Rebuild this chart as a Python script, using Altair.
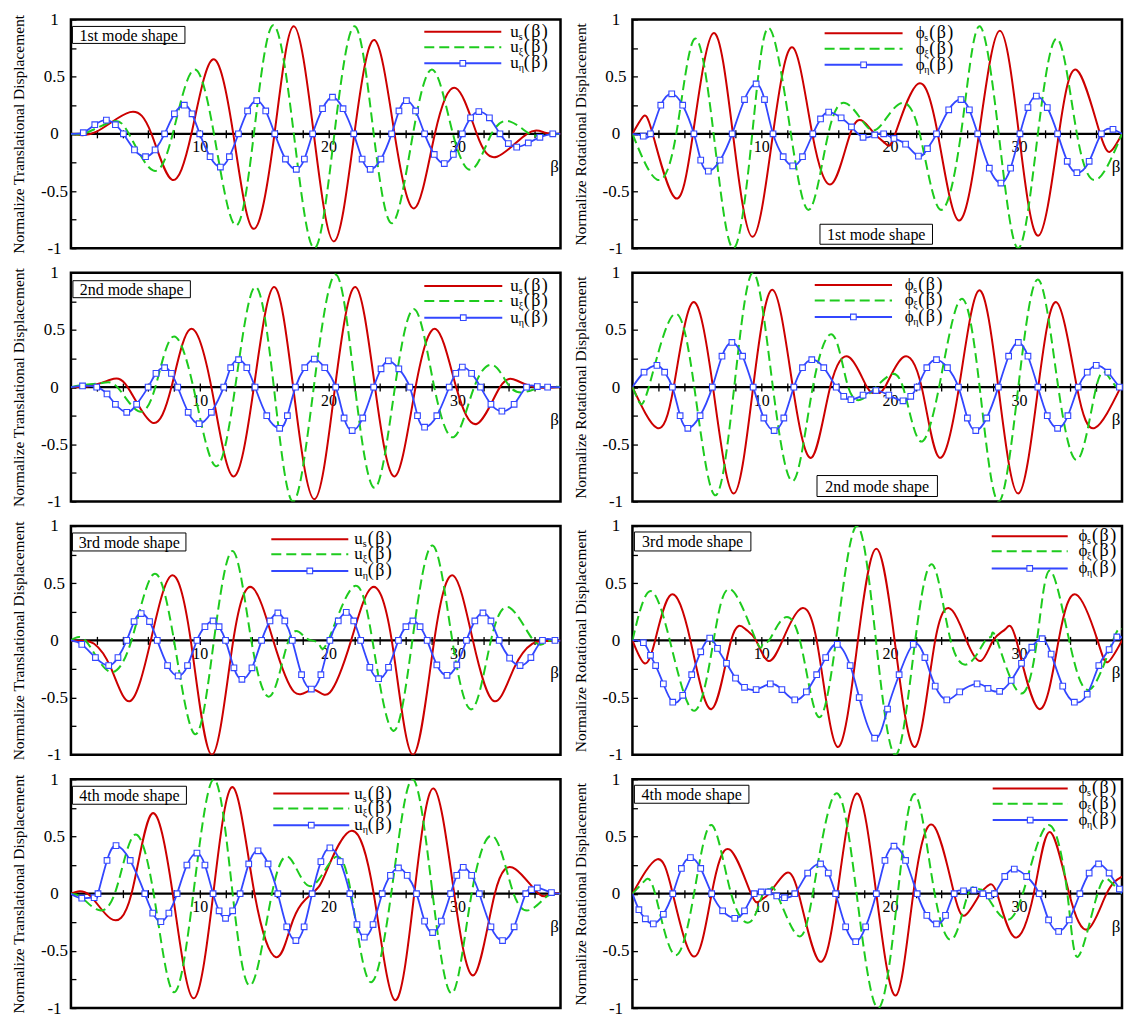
import altair as alt
import pandas as pd

W, H = 490, 229
KX = W / 496.0          # reference plot width is ~496 px; annotation x offsets are scaled by this
FONT = "Liberation Serif"
RED = "#cc0000"
GREEN = "#1ecb1e"
BLUE = "#3347ff"

# ---------------- data: (beta, value) ----------------
L1_RED = [(0,0),(2.0,0.02),(4.58,0.19),(6.25,0),(7.83,-0.40),(9.35,0),(11.0,0.65),(12.6,0),(14.16,-0.83),(15.8,0),(17.28,0.94),(18.85,0),(20.42,-0.94),(22.0,0),(23.56,0.82),(25.12,0),(26.68,-0.65),(28.25,0),(29.87,0.40),(31.5,0),(33.07,-0.20),(35.4,0),(36.8,0.01),(38,0)]
L1_GREEN = [(0,0),(1.2,0.01),(3.18,0.107),(4.5,0),(6.37,-0.32),(7.9,0),(9.52,0.56),(11.1,0),(12.76,-0.80),(14.2,0),(15.69,0.95),(17.3,0),(18.89,-1.0),(20.45,0),(22.03,0.94),(23.5,0),(24.95,-0.78),(26.55,0),(28.1,0.56),(29.65,0),(31.15,-0.31),(32.65,0),(34.1,0.107),(35.6,0),(36.6,-0.01),(38,0)]
L1_BLUE = [(0,0),(0.96,0.01),(1.85,0.08),(2.75,0.12),(3.45,0.08),(4.07,0),(4.93,-0.14),(5.79,-0.20),(6.53,-0.14),(7.27,0),(8.03,0.175),(8.8,0.25),(9.4,0.175),(10.0,0),(10.8,-0.2),(11.6,-0.29),(12.3,-0.2),(13.0,0),(13.71,0.2),(14.42,0.29),(15.12,0.2),(15.82,0),(16.65,-0.22),(17.49,-0.31),(18.12,-0.22),(18.76,0),(19.53,0.22),(20.3,0.32),(21.12,0.22),(21.95,0),(22.6,-0.22),(23.23,-0.31),(24.06,-0.22),(24.89,0),(25.46,0.2),(26.04,0.29),(26.75,0.2),(27.45,0),(28.2,-0.18),(28.98,-0.26),(29.68,-0.18),(30.38,0),(31.02,0.14),(31.66,0.195),(32.48,0.14),(33.3,0),(33.95,-0.085),(34.6,-0.116),(35.5,-0.08),(36.4,-0.03),(37.4,0.0),(38,0)]

L2_RED = [(0,0),(1.5,0.01),(3.06,0.064),(4.4,0),(6.3,-0.31),(7.8,0),(9.26,0.507),(10.9,0),(12.58,-0.78),(14.2,0),(15.75,0.875),(17.25,0),(18.89,-0.98),(20.5,0),(22.08,0.875),(23.6,0),(25.15,-0.78),(26.75,0),(28.33,0.507),(29.9,0),(31.53,-0.32),(33.3,0),(34.6,0.058),(36.0,0),(38,0)]
L2_GREEN = [(0,0),(1.0,0.02),(2.4,0.035),(3.6,0),(5.22,-0.21),(6.55,0),(7.9,0.44),(9.5,0),(11.22,-0.69),(12.75,0),(14.29,0.875),(15.75,0),(17.23,-1.0),(18.85,0),(20.55,0.985),(22.05,0),(23.6,-0.88),(25.15,0),(26.68,0.68),(28.2,0),(29.75,-0.435),(31.3,0),(32.8,0.19),(34.1,0),(35.36,-0.04),(36.6,0),(38,0)]
L2_BLUE = [(0,0),(0.9,0.01),(2.0,0.0),(2.8,-0.06),(3.45,-0.15),(4.33,-0.22),(5.1,-0.15),(5.99,0),(6.6,0.12),(7.27,0.17),(7.8,0.12),(8.29,0),(9.1,-0.22),(9.95,-0.32),(10.9,-0.22),(11.86,0),(12.4,0.17),(13.01,0.24),(13.65,0.17),(14.29,0),(15.2,-0.25),(16.2,-0.36),(16.8,-0.25),(17.43,0),(18.15,0.17),(18.89,0.245),(19.7,0.17),(20.55,0),(21.2,-0.27),(21.83,-0.38),(22.65,-0.27),(23.5,0),(24.07,0.16),(24.64,0.23),(25.45,0.16),(26.3,0),(26.9,-0.25),(27.45,-0.35),(28.4,-0.25),(29.36,0),(29.87,0.12),(30.38,0.175),(31.1,0.12),(31.79,0),(32.6,-0.15),(33.45,-0.21),(34.4,-0.15),(35.36,0),(36.2,0.005),(37.0,0.0),(38,0)]

L3_RED = [(0,0),(1.0,-0.005),(1.8,-0.03),(3.1,-0.24),(4.61,-0.53),(6.2,0),(7.77,0.565),(9.3,0),(10.95,-1.0),(12.6,0),(14.1,0.46),(15.7,0),(17.32,-0.45),(18.8,-0.43),(20.1,-0.455),(21.75,0),(23.32,0.46),(24.9,0),(26.54,-1.0),(28.2,0),(29.7,0.565),(31.2,0),(32.82,-0.53),(34.4,-0.24),(35.8,-0.03),(36.8,-0.005),(38,0)]
L3_GREEN = [(0,0),(1.2,-0.01),(2.93,-0.27),(4.7,0),(6.42,0.58),(8.0,0),(9.64,-0.82),(11.1,0),(12.57,0.78),(14.0,0),(15.5,-0.485),(16.9,0),(18.0,0.045),(18.65,0.0),(19.27,-0.035),(19.97,0),(21.93,0.47),(23.4,0),(25.0,-0.79),(26.5,0),(28.07,0.83),(29.6,0),(31.15,-0.6),(32.6,0),(34.08,0.285),(35.9,0),(37.0,-0.01),(38,0)]
L3_BLUE = [(0,0),(0.84,-0.035),(1.9,-0.15),(2.93,-0.22),(3.65,-0.15),(4.33,0),(4.9,0.165),(5.45,0.235),(6.1,0.165),(6.7,0),(7.5,-0.22),(8.32,-0.31),(9.05,-0.22),(9.78,0),(10.4,0.12),(11.03,0.17),(11.5,0.12),(12.0,0),(12.65,-0.24),(13.27,-0.34),(14.05,-0.24),(14.8,0),(15.45,0.17),(16.06,0.24),(16.6,0.17),(17.18,0),(17.9,-0.3),(18.66,-0.425),(19.4,-0.3),(20.1,0),(20.75,0.17),(21.37,0.245),(21.95,0.17),(22.49,0),(23.2,-0.235),(23.88,-0.335),(24.65,-0.235),(25.42,0),(26.0,0.12),(26.54,0.17),(27.1,0.12),(27.65,0),(28.4,-0.215),(29.19,-0.305),(29.95,-0.215),(30.7,0),(31.35,0.17),(31.98,0.24),(32.6,0.17),(33.24,0),(34.05,-0.155),(34.86,-0.22),(35.7,-0.15),(36.6,0),(37.57,0.0),(38,0)]

L4_RED = [(0,0),(1.4,-0.01),(3.07,-0.217),(4.7,0),(6.28,0.7),(7.9,0),(9.5,-0.915),(11.05,0),(12.57,0.93),(14.25,0),(15.92,-0.555),(17.04,-0.295),(17.9,-0.09),(18.7,0.0),(19.3,0.07),(20.0,0.24),(21.8,0.55),(23.5,0),(25.14,-0.93),(26.65,0),(28.15,0.92),(29.75,0),(31.3,-0.71),(32.9,0),(34.5,0.215),(36.3,0),(37.2,0.0),(38,0)]
L4_GREEN = [(0,0),(0.8,-0.03),(1.96,-0.136),(3.4,0),(4.89,0.51),(6.42,0),(7.96,-0.86),(9.5,0),(11.1,1.0),(12.55,0),(13.97,-0.8),(15.6,0),(17.0,0.31),(18.58,0.065),(20.4,0.31),(21.75,0),(23.2,-0.77),(24.86,0),(26.5,1.0),(28.07,0),(29.6,-0.87),(31.1,0),(32.8,0.5),(34.36,0),(35.75,-0.136),(37.0,-0.02),(38,0)]
L4_BLUE = [(0,0),(0.84,-0.04),(1.8,-0.035),(2.1,0),(2.8,0.29),(3.5,0.42),(4.6,0.29),(5.73,0),(6.35,-0.17),(6.98,-0.245),(7.6,-0.17),(8.24,0),(9.0,0.25),(9.78,0.355),(10.4,0.25),(11.03,0),(11.5,-0.15),(12.0,-0.215),(12.55,-0.15),(13.13,0),(13.8,0.26),(14.52,0.375),(15.3,0.26),(16.06,0),(16.75,-0.29),(17.46,-0.41),(18.1,-0.29),(18.72,0),(19.4,0.28),(20.1,0.4),(20.9,0.28),(21.65,0),(22.2,-0.27),(22.77,-0.38),(23.45,-0.27),(24.16,0),(24.8,0.16),(25.42,0.225),(26.1,0.16),(26.82,0),(27.45,-0.24),(28.07,-0.34),(28.75,-0.24),(29.47,0),(29.95,0.16),(30.45,0.23),(31.1,0.16),(31.7,0),(32.6,-0.29),(33.5,-0.41),(34.4,-0.29),(35.3,0),(35.75,0.035),(36.2,0.05),(37.3,0.01),(38,0)]

R1_RED = [(0,0),(0.81,0.148),(1.57,0),(3.3,-0.56),(4.7,0),(6.29,0.88),(7.8,0),(9.34,-0.9),(10.91,0),(12.44,0.756),(13.96,0),(15.48,-0.436),(16.9,0),(17.9,0.11),(18.8,0.0),(19.7,-0.09),(20.4,0),(22.14,0.436),(23.7,0),(25.3,-0.756),(26.9,0),(28.5,0.9),(30.0,0),(31.52,-0.89),(33.1,0),(34.52,0.555),(36.3,0),(37.2,-0.145),(38,0.0)]
R1_GREEN = [(0,0),(1.9,-0.4),(3.4,0),(4.82,0.83),(6.3,0),(7.82,-1.0),(9.3,0),(10.6,0.925),(12.3,0),(13.76,-0.66),(15.2,0),(16.5,0.27),(17.8,0.12),(18.7,0.03),(19.6,0.12),(20.9,0.27),(22.3,0),(23.86,-0.66),(25.5,0),(26.9,0.94),(28.43,0),(29.95,-1.0),(31.47,0),(33.0,0.83),(34.5,0),(36.04,-0.4),(38,0)]
R1_BLUE = [(0,0),(0.84,-0.02),(1.4,0),(2.2,0.25),(3.05,0.35),(3.9,0.25),(4.77,0),(5.3,-0.23),(5.89,-0.326),(6.8,-0.23),(7.74,0),(8.7,0.3),(9.6,0.436),(10.25,0.3),(10.91,0),(11.7,-0.2),(12.44,-0.28),(13.2,-0.2),(14.0,0),(14.6,0.13),(15.23,0.19),(16.2,0.14),(17.0,0.06),(17.9,-0.03),(18.8,-0.01),(19.5,0.0),(20.3,-0.04),(21.2,-0.09),(22.2,-0.195),(22.9,-0.13),(23.6,0),(24.55,0.21),(25.5,0.3),(26.15,0.21),(26.8,0),(27.7,-0.3),(28.6,-0.43),(29.35,-0.3),(30.08,0),(30.7,0.23),(31.35,0.33),(32.2,0.23),(33.0,0),(33.75,-0.24),(34.5,-0.34),(35.45,-0.24),(36.4,0),(37.3,0.04),(38,0)]

R2_RED = [(0,0),(1.9,-0.356),(3.2,0),(4.68,0.74),(6.25,0),(7.85,-0.93),(9.37,0),(10.89,0.85),(12.45,0),(13.92,-0.615),(15.35,0),(16.84,0.26),(18.2,0),(18.9,-0.05),(19.6,0),(21.0,0.26),(22.45,0),(23.8,-0.615),(25.35,0),(26.9,0.845),(28.4,0),(29.95,-0.93),(31.5,0),(32.94,0.74),(34.5,0),(35.9,-0.356),(37.9,0)]
R2_GREEN = [(0,0),(0.5,-0.126),(1.27,0),(3.2,0.635),(4.8,0),(6.4,-0.945),(7.9,0),(9.37,1.0),(10.9,0),(12.48,-0.82),(14.0,0),(15.57,0.454),(16.75,0),(17.9,-0.1),(18.9,0),(19.9,0.1),(21.0,0),(22.3,-0.47),(23.8,0),(25.5,0.77),(26.95,0),(28.4,-1.0),(29.95,0),(31.5,0.94),(33.05,0),(34.6,-0.63),(36.0,0),(36.9,0.1),(37.6,0),(38,0)]
R2_BLUE = [(0,0),(0.9,0.13),(1.9,0.19),(2.5,0.13),(3.1,0),(3.7,-0.25),(4.3,-0.36),(5.25,-0.25),(6.2,0),(6.95,0.27),(7.72,0.39),(8.55,0.27),(9.37,0),(10.2,-0.27),(11.0,-0.38),(11.75,-0.27),(12.53,0),(13.2,0.17),(13.92,0.24),(14.85,0.17),(15.82,0),(16.4,-0.08),(16.96,-0.11),(17.9,-0.07),(18.9,-0.03),(19.9,-0.07),(21.0,-0.12),(21.6,-0.08),(22.1,0),(22.85,0.17),(23.6,0.24),(24.45,0.17),(25.3,0),(26.0,-0.27),(26.65,-0.38),(27.5,-0.27),(28.4,0),(29.2,0.27),(29.95,0.39),(30.7,0.27),(31.47,0),(32.2,-0.25),(33.0,-0.36),(33.8,-0.25),(34.6,0),(35.3,0.13),(36.0,0.19),(36.9,0.13),(37.8,0),(38,0)]

R3_RED = [(0,0),(0.93,-0.2),(1.76,0),(3.0,0.4),(4.5,0),(6.15,-0.6),(7.66,0),(8.76,0.1),(9.59,0),(10.55,-0.18),(11.65,0),(12.88,0.26),(14.3,0),(15.9,-0.93),(17.5,0),(18.93,0.8),(20.35,0),(21.95,-0.93),(23.5,0),(24.84,0.26),(25.93,0),(27.03,-0.18),(28.0,0),(28.96,0.1),(29.8,0),(31.57,-0.6),(33.08,0),(34.45,0.4),(36.1,0),(36.9,-0.19),(38,0)]
R3_GREEN = [(0,0),(1.35,0.43),(2.9,0),(4.78,-0.615),(6.3,0),(7.66,0.444),(9.6,0),(10.1,-0.03),(10.6,0),(11.65,0.186),(13.0,0),(14.4,-0.665),(15.8,0),(17.4,1.0),(18.9,0),(20.44,-1.0),(21.95,0),(23.32,0.66),(24.7,0),(26.2,-0.195),(27.4,0),(27.86,0.035),(28.3,0),(30.05,-0.46),(31.4,0),(32.4,0.61),(33.9,0),(35.5,-0.43),(37.3,0),(38,0.1)]
R3_BLUE = [(0,0),(0.85,-0.02),(1.4,-0.13),(1.8,-0.22),(2.4,-0.38),(3.13,-0.54),(3.9,-0.48),(4.6,-0.3),(5.3,-0.1),(6.0,0.02),(6.6,-0.07),(7.3,-0.2),(8.0,-0.33),(8.7,-0.41),(9.6,-0.43),(10.7,-0.38),(11.6,-0.43),(12.6,-0.52),(13.5,-0.45),(14.3,-0.3),(15.0,-0.15),(15.9,-0.035),(16.9,-0.22),(17.6,-0.5),(18.8,-0.855),(19.8,-0.6),(20.7,-0.3),(21.8,-0.035),(22.7,-0.15),(23.5,-0.4),(24.4,-0.52),(25.4,-0.45),(26.75,-0.38),(27.6,-0.42),(28.5,-0.445),(29.4,-0.35),(30.2,-0.2),(31.0,-0.06),(31.8,0.015),(32.5,-0.12),(33.4,-0.4),(34.3,-0.54),(35.3,-0.47),(36.2,-0.22),(37.0,-0.08),(37.6,0.03),(38,0.02)]

R4_RED = [(0,0),(1.9,0.3),(3.13,0),(4.78,-0.55),(6.15,0),(7.53,0.387),(9.2,0),(9.9,-0.06),(10.6,0),(11.8,0.17),(12.9,0),(14.5,-0.59),(15.9,0),(17.4,0.875),(18.93,0),(20.44,-0.89),(21.8,0),(23.32,0.6),(24.97,0),(25.93,-0.18),(27.0,0),(27.6,0.07),(28.3,0),(29.64,-0.38),(31.15,0),(32.4,0.54),(33.9,0),(35.36,-0.31),(36.8,0),(38,0.15)]
R4_GREEN = [(0,0),(0.93,0.11),(1.76,0),(3.27,-0.535),(4.78,0),(6.15,0.6),(7.66,0),(9.18,-0.244),(10.14,0),(10.7,0.04),(11.2,0),(12.75,-0.36),(14.0,0),(15.77,0.875),(17.4,0),(19.07,-1.0),(20.6,0),(21.95,0.868),(23.46,0),(24.9,-0.39),(26.07,0),(26.9,0.04),(27.4,0),(28.8,-0.215),(30.3,0),(32.25,0.6),(33.76,0),(34.6,-0.55),(36.1,0),(37.06,0.11),(38,0)]
R4_BLUE = [(0,0),(0.5,-0.14),(1.0,-0.22),(1.62,-0.264),(2.4,-0.18),(3.13,0),(3.8,0.22),(4.5,0.315),(5.3,0.22),(6.15,0),(7.0,-0.15),(7.94,-0.215),(8.7,-0.15),(9.45,0),(10.0,0.015),(10.55,0.015),(11.2,-0.02),(11.8,-0.035),(12.6,0),(13.6,0.18),(14.6,0.26),(15.2,0.18),(15.77,0),(16.55,-0.29),(17.33,-0.42),(18.1,-0.29),(18.93,0),(19.6,0.29),(20.3,0.415),(21.2,0.29),(22.1,0),(22.85,-0.19),(23.6,-0.265),(24.3,-0.19),(24.97,0),(25.7,0.025),(26.5,0.03),(27.2,0.0),(27.7,-0.02),(28.1,0),(28.9,0.15),(29.64,0.215),(30.6,0.15),(31.57,0),(32.3,-0.23),(33.08,-0.33),(33.9,-0.23),(34.73,0),(35.45,0.18),(36.18,0.26),(37.0,0.18),(37.8,0.04),(38,0)]

X_TICKS = list(range(2, 38, 2))
Y_TICKS = [-1, -0.75, -0.5, -0.25, 0, 0.25, 0.5, 0.75, 1]
T_TITLE = "Normalize Translational Displacement"
R_TITLE = "Normalize Rotational Displacement"
MODES = ["1st mode shape", "2nd mode shape", "3rd mode shape", "4th mode shape"]
SUBS = ["s", "ξ", "η"]
PAREN = "(\u200aβ\u200a)"

# --------------------------- helpers ---------------------------
ONE = pd.DataFrame({"k": [0]})


def frame(pairs):
    return pd.DataFrame(pairs, columns=["beta", "val"])


def xenc():
    return alt.X(
        "beta:Q",
        scale=alt.Scale(domain=[0, 38], nice=False, zero=False),
        axis=alt.Axis(
            orient="bottom", values=X_TICKS, offset=-(H / 2 + 4), tickSize=8,
            tickWidth=1.3, tickColor="black", domain=False, grid=False,
            labelExpr="datum.value % 10 == 0 ? '' + datum.value : ''",
            labelFont=FONT, labelFontSize=16, labelColor="black", labelPadding=1,
            labelOverlap=False, labelFlush=False, title=None,
        ),
    )


def yenc(title):
    return alt.Y(
        "val:Q",
        scale=alt.Scale(domain=[-1, 1], nice=False, zero=False),
        axis=alt.Axis(
            orient="left", values=Y_TICKS, offset=-5, tickSize=5, tickWidth=1.3,
            tickColor="black", domain=False, grid=False,
            labelExpr="(datum.value * 2) % 1 == 0 ? '' + datum.value : ''",
            labelAlign="center", labelBaseline="middle", labelPadding=17,
            labelFont=FONT, labelFontSize=17, labelColor="black", labelOverlap=False,
            title=title, titleFont=FONT, titleFontSize=15.5, titleFontWeight="normal",
            titleColor="black", titleX=-57, titleY=H / 2, titleAngle=270,
            titleAlign="center", titleBaseline="middle",
        ),
    )


def panel(red, green, blue, title, sym, mode, box, leg, beta_x):
    layers = []
    layers.append(alt.Chart(frame([(0, 0)])).mark_rule(color="black", strokeWidth=2.4)
                  .encode(y=yenc(title)))
    layers.append(alt.Chart(frame(red)).mark_line(color=RED, strokeWidth=2, interpolate="natural", clip=True)
                  .encode(x=xenc(), y=yenc(title)))
    layers.append(alt.Chart(frame(green)).mark_line(color=GREEN, strokeWidth=2, strokeDash=[10, 5],
                                                    interpolate="natural", clip=True)
                  .encode(x=xenc(), y=yenc(title)))
    layers.append(alt.Chart(frame(blue)).mark_line(color=BLUE, strokeWidth=1.8, interpolate="natural", clip=True)
                  .encode(x=xenc(), y=yenc(title)))
    layers.append(alt.Chart(frame(blue)).transform_filter("datum.beta > 0.3 && datum.beta < 37.9")
                  .mark_square(filled=True, fill="white", stroke=BLUE, strokeWidth=1.1, size=32, opacity=1)
                  .encode(x=xenc(), y=yenc(title)))
    # mode label box
    bx1, bx2, by1, by2 = box
    bx1, bx2 = bx1 * KX, bx2 * KX
    layers.append(alt.Chart(ONE).mark_rect(fill="white", stroke="black", strokeWidth=1)
                  .encode(x=alt.value(bx1), x2=alt.value(bx2), y=alt.value(by1), y2=alt.value(by2)))
    layers.append(alt.Chart(ONE).mark_text(text=mode, font=FONT, fontSize=16, color="black",
                                           align="center", baseline="middle")
                  .encode(x=alt.value((bx1 + bx2) / 2), y=alt.value((by1 + by2) / 2 + 1)))
    # legend
    lx0, lx1, tx, rows = leg
    lx0, lx1, tx = lx0 * KX, lx1 * KX, tx * KX
    styles = [(RED, {}), (GREEN, {"strokeDash": [10, 5]}), (BLUE, {})]
    for i, (col, extra) in enumerate(styles):
        yy = rows[i]
        layers.append(alt.Chart(ONE).mark_rule(color=col, strokeWidth=2, **extra)
                      .encode(x=alt.value(lx0), x2=alt.value(lx1), y=alt.value(yy)))
        if i == 2:
            layers.append(alt.Chart(ONE).mark_square(filled=True, fill="white", stroke=BLUE,
                                                     strokeWidth=1.1, size=32, opacity=1)
                          .encode(x=alt.value((lx0 + lx1) / 2), y=alt.value(yy)))
        layers.append(alt.Chart(ONE).mark_text(text=sym, font=FONT, fontSize=17, color="black",
                                               align="left", baseline="middle")
                      .encode(x=alt.value(tx), y=alt.value(yy)))
        layers.append(alt.Chart(ONE).mark_text(text=SUBS[i], font=FONT, fontSize=10, color="black",
                                               align="left", baseline="middle")
                      .encode(x=alt.value(tx + 8.5), y=alt.value(yy + 5)))
        layers.append(alt.Chart(ONE).mark_text(text=PAREN, font=FONT, fontSize=18, color="black",
                                               align="left", baseline="middle")
                      .encode(x=alt.value(tx + 13.5), y=alt.value(yy)))
    layers.append(alt.Chart(ONE).mark_text(text="β", font=FONT, fontSize=17, color="black",
                                           align="center", baseline="middle")
                  .encode(x=alt.value(beta_x), y=alt.value(H / 2 + 33)))
    return alt.layer(*layers).properties(width=W, height=H)


LEFT = [
    panel(L1_RED, L1_GREEN, L1_BLUE, T_TITLE, "u", MODES[0], (1.5, 115.5, 7, 24),
          (358, 436, 445, [12.3, 27.9, 43.9]), W - 6),
    panel(L2_RED, L2_GREEN, L2_BLUE, T_TITLE, "u", MODES[1], (2, 121, 8, 25),
          (358, 437, 445, [13.3, 28.3, 45]), W - 6),
    panel(L3_RED, L3_GREEN, L3_BLUE, T_TITLE, "u", MODES[2], (1.5, 116.5, 7, 25),
          (203, 281, 287, [13.3, 28.3, 45]), W - 6),
    panel(L4_RED, L4_GREEN, L4_BLUE, T_TITLE, "u", MODES[3], (1.5, 117, 7, 25),
          (205, 282, 287, [14.3, 29.2, 46]), W - 6),
]
RIGHT = [
    panel(R1_RED, R1_GREEN, R1_BLUE, R_TITLE, "ϕ", MODES[0], (190, 304, 205, 225),
          (194.7, 273.7, 287, [13.8, 29.4, 45.4]), W - 6),
    panel(R2_RED, R2_GREEN, R2_BLUE, R_TITLE, "ϕ", MODES[1], (187, 309, 203, 224),
          (184.7, 263, 276, [12.2, 27.7, 44.3]), W - 6),
    panel(R3_RED, R3_GREEN, R3_BLUE, R_TITLE, "ϕ", MODES[2], (2, 120, 6, 25),
          (364, 441, 452, [10.2, 25.4, 42.5]), W - 6),
    panel(R4_RED, R4_GREEN, R4_BLUE, R_TITLE, "ϕ", MODES[3], (2, 118, 6, 24),
          (365, 441, 452, [9.2, 24.4, 40.8]), W - 6),
]

panels = []
for l, r in zip(LEFT, RIGHT):
    panels.extend([l, r])

chart = (
    alt.concat(*panels, columns=2, bounds="flush",
               spacing=alt.RowColnumber(row=24.5, column=72))
    .properties(padding={"left": 2, "top": 0, "right": 0, "bottom": 0}, background="white")
    .configure_view(stroke="black", strokeWidth=2.5)
)

chart.save("out.html", embed_options={"renderer": "svg", "actions": False})
